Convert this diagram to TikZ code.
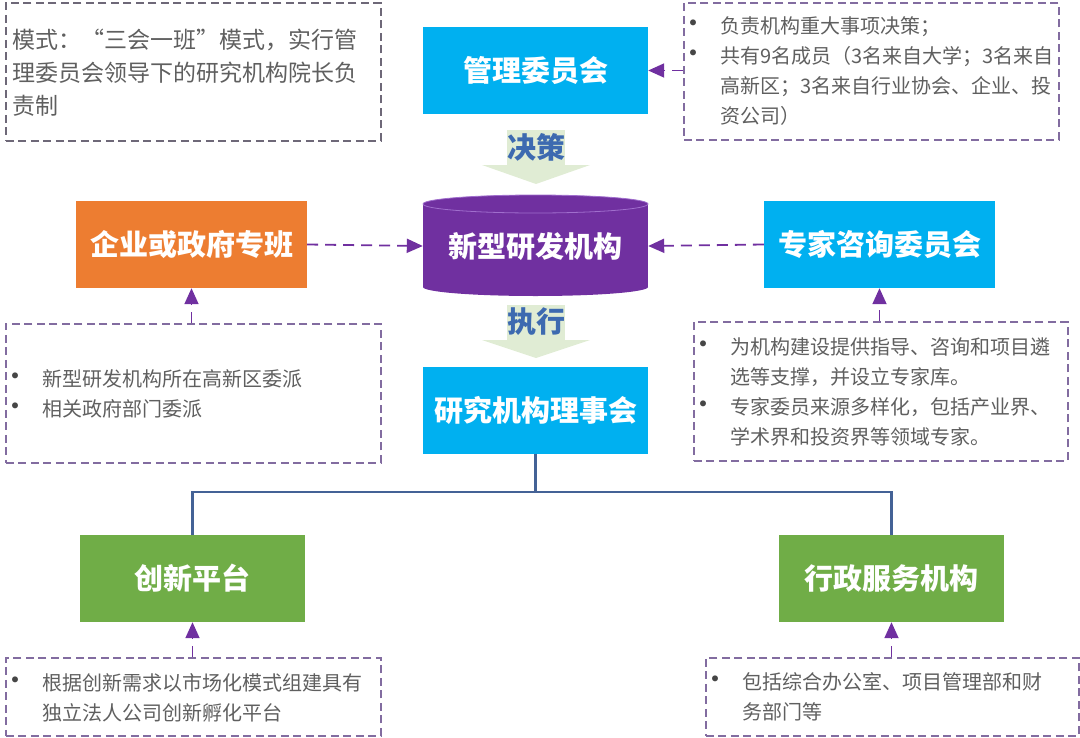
\documentclass[tikz,border=0pt]{standalone}
\usepackage{fontspec}
\setmainfont{Noto Sans CJK SC}
\usetikzlibrary{arrows.meta}
\definecolor{cyanbox}{RGB}{0,176,240}
\definecolor{orangebox}{RGB}{237,125,49}
\definecolor{greenbox}{RGB}{112,173,71}
\definecolor{purplebox}{RGB}{112,48,160}
\definecolor{purplerim}{RGB}{160,110,205}
\definecolor{linkpurple}{RGB}{112,48,160}
\definecolor{notegray}{RGB}{110,104,120}
\definecolor{notepurple}{RGB}{130,108,160}
\definecolor{textgray}{RGB}{95,95,95}
\definecolor{bulgray}{RGB}{70,70,70}
\definecolor{treec}{RGB}{68,98,150}
\definecolor{pale}{RGB}{224,236,212}
\definecolor{steptextc}{RGB}{61,106,176}
\newcommand\bl{\makebox[36pt][l]{\makebox[18pt]{\textcolor{bulgray}{\fontsize{28}{30}\selectfont •}}}}
\newcommand\ind{\hspace*{36pt}}
\begin{document}
\begin{tikzpicture}[x=1pt,y=-1pt,
  box/.style={minimum width=225pt, minimum height=87pt, inner sep=0pt, text=white,
    font=\bfseries\fontsize{29}{35}\selectfont},
  widebox/.style={box, minimum width=231pt},
  note/.style={draw=notepurple, dash pattern=on 8pt off 4.5pt, line width=1.8pt,
    inner sep=0pt, anchor=north west},
  notetext/.style={anchor=west, inner sep=0pt, align=left, text=textgray,
    font=\fontsize{20}{30}\selectfont},
  link/.style={draw=linkpurple, line width=1.8pt, dash pattern=on 11pt off 7pt,
    -{Triangle[length=16pt,width=14pt]}},
  tree/.style={draw=treec, line width=2.2pt},
  steptext/.style={inner sep=0pt, text=steptextc, font=\bfseries\fontsize{29}{35}\selectfont}
]
\useasboundingbox (0,0) rectangle (1080,737);

% notes
\node[note, draw=notegray, minimum width=375pt, minimum height=138pt] (nTL) at (5,2) {};
\node[notetext, font=\fontsize{23}{33}\selectfont, text=textgray] (tTL) at (12,73)
  {模式：“三会一班”模式，实行管\\理委员会领导下的研究机构院长负\\责制};

\node[note, minimum width=375pt, minimum height=137pt] (nTR) at (683,2) {};
\node[notetext] (tTR) at (684,71)
  {\bl 负责机构重大事项决策；\\\bl 共有9名成员（3名来自大学；3名来自\\\ind 高新区；3名来自行业协会、企业、投\\\ind 资公司）};

\node[note, minimum width=375pt, minimum height=139pt] (nML) at (5,323) {};
\node[notetext] (tML) at (6,394)
  {\bl 新型研发机构所在高新区委派\\\bl 相关政府部门委派};

\node[note, minimum width=374pt, minimum height=139pt] (nMR) at (693,321) {};
\node[notetext] (tMR) at (694,392)
  {\bl 为机构建设提供指导、咨询和项目遴\\\ind 选等支撑，并设立专家库。\\\bl 专家委员来源多样化，包括产业界、\\\ind 学术界和投资界等领域专家。};

\node[note, minimum width=375pt, minimum height=78pt] (nBL) at (5,657) {};
\node[notetext] (tBL) at (6,698)
  {\bl 根据创新需求以市场化模式组建具有\\\ind 独立法人公司创新孵化平台};

\node[note, minimum width=373pt, minimum height=78pt] (nBR) at (705,657) {};
\node[notetext] (tBR) at (706,697)
  {\bl 包括综合办公室、项目管理部和财\\\ind 务部门等};

% main boxes
\node[box, fill=cyanbox] (mgmt) at (535.5,70.5) {管理委员会};
\node[widebox, fill=orangebox] (gov) at (191.5,244.5) {企业或政府专班};
\node[widebox, fill=cyanbox] (expert) at (879.5,244.5) {专家咨询委员会};
\node[box, fill=cyanbox] (council) at (535.5,410) {研究机构理事会};
\node[box, fill=greenbox] (innov) at (192.5,578.5) {创新平台};
\node[box, fill=greenbox] (admin) at (891.5,578.5) {行政服务机构};

% cylinder
\fill[purplebox] (423,204) rectangle (648,287);
\fill[purplebox] (535.5,287) ellipse [x radius=112.5pt, y radius=9pt];
\filldraw[fill=purplebox, draw=purplerim, line width=0.8pt] (535.5,204) ellipse [x radius=112.5pt, y radius=9pt];
\node[box, minimum height=102pt] (core) at (535.5,246) {新型研发机构};

% step arrows
\fill[pale] (507,130) rectangle (565,166);
\fill[pale] (482,165) -- (590,165) -- (536,184) -- cycle;
\node[steptext] (decide) at (536,147) {决策};
\fill[pale] (507,305) rectangle (565,341);
\fill[pale] (482,340) -- (590,340) -- (536,358) -- cycle;
\node[steptext] (exec) at (536,322) {执行};

% connectors
\draw[link] (nTR.west |- mgmt.east) -- (mgmt.east);
\draw[link] (gov.east) -- (core.west);
\draw[link] (expert.west) -- (core.east);
\draw[link] (nML.north -| gov.south) -- (gov.south);
\draw[link] (nMR.north -| expert.south) -- (expert.south);
\draw[link] (nBL.north -| innov.south) -- (innov.south);
\draw[link] (nBR.north -| admin.south) -- (admin.south);

% tree
\draw[tree] (council.south) -- ++(0,38) -| (innov.north);
\draw[tree] (council.south) -- ++(0,38) -| (admin.north);
\end{tikzpicture}
\end{document}
